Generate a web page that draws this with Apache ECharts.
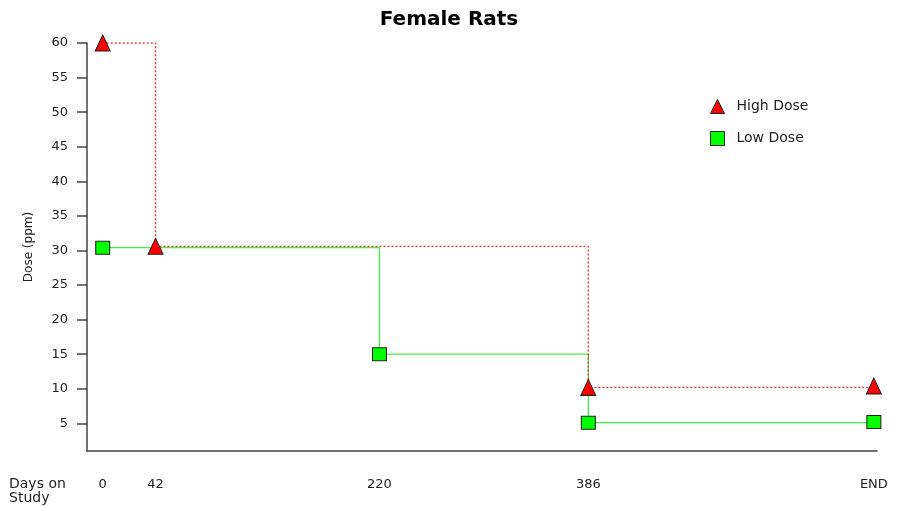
<!DOCTYPE html>
<html><head><meta charset="utf-8">
<script src="https://cdn.jsdelivr.net/npm/echarts@6/dist/echarts.min.js"></script>
<style>html,body{margin:0;padding:0;background:#fff}#c{width:898px;height:506px}</style>
</head><body><div id="c"></div>
<script>
const title = 'Female Rats';
const tickDays = [0, 42, 220, 386, 613];
const tickLabels = ['0', '42', '220', '386', 'END'];
const yTicks = [5, 10, 15, 20, 25, 30, 35, 40, 45, 50, 55, 60];
const highDays = [0, 42, 386, 613];
const highDose = [60, 30.6, 10.2, 10.4];
const lowDays = [0, 220, 386, 613];
const lowDose = [30.4, 15, 5.1, 5.2];

const font = '"DejaVu Sans", Verdana, sans-serif';
const chart = echarts.init(document.getElementById('c'), null, {renderer: 'canvas'});
chart.setOption({
  animation: false,
  backgroundColor: '#fff',
  title: {text: title, left: 'center', top: 10, itemGap: 0, padding: 0,
    textStyle: {fontFamily: font, fontWeight: 'bold', fontSize: 20, color: '#000'}},
  legend: {
    orient: 'vertical', left: 710, top: 99, padding: 0, itemWidth: 14, itemHeight: 14, itemGap: 17,
    textStyle: {fontFamily: font, fontSize: 14, color: '#222', padding: [0, 0, 0, 7]},
    data: [
      {name: 'High Dose', icon: 'triangle', itemStyle: {color: '#ff0000', borderColor: '#222', borderWidth: 1}},
      {name: 'Low Dose', icon: 'rect', itemStyle: {color: '#00ff00', borderColor: '#222', borderWidth: 1}}
    ]
  },
  grid: {left: 87, right: 21, top: 43, bottom: 55, containLabel: false},
  xAxis: {
    type: 'value', min: -12.5, max: 615.5,
    axisLine: {show: true, onZero: false, lineStyle: {color: '#444', width: 1.5}},
    axisTick: {show: false},
    splitLine: {show: false},
    axisLabel: {
      customValues: tickDays, margin: 27,
      fontFamily: font, fontSize: 13, color: '#222',
      formatter: v => tickLabels[tickDays.indexOf(v)]
    }
  },
  yAxis: {
    type: 'value', min: 1, max: 60,
    name: 'Dose (ppm)', nameLocation: 'middle', nameGap: 52, nameRotate: 90,
    nameTextStyle: {fontFamily: font, fontSize: 12, color: '#222'},
    axisLine: {show: true, onZero: false, lineStyle: {color: '#444', width: 1.5}},
    axisTick: {show: true, customValues: yTicks, length: 10, lineStyle: {color: '#444', width: 1.5}},
    splitLine: {show: false},
    axisLabel: {customValues: yTicks, margin: 19, fontFamily: font, fontSize: 13, color: '#222'}
  },
  graphic: [{
    type: 'text', left: 9, top: 477,
    style: {text: 'Days on\nStudy', font: '14px ' + font, fill: '#222', lineHeight: 14}
  }],
  series: [
    {
      name: 'Low Dose', type: 'line', step: 'end',
      data: lowDays.map((d, i) => [d, lowDose[i]]),
      symbol: 'rect', symbolSize: [14, 13],
      lineStyle: {color: '#44ee44', width: 1.3},
      itemStyle: {color: '#00ff00', borderColor: '#222', borderWidth: 1}
    },
    {
      name: 'High Dose', type: 'line', step: 'end',
      data: highDays.map((d, i) => [d, highDose[i]]),
      symbol: 'triangle', symbolSize: [15, 16],
      lineStyle: {color: '#ff2a2a', width: 1.3, type: [2, 2]},
      itemStyle: {color: '#ff0000', borderColor: '#222', borderWidth: 1}
    }
  ]
});
</script></body></html>
